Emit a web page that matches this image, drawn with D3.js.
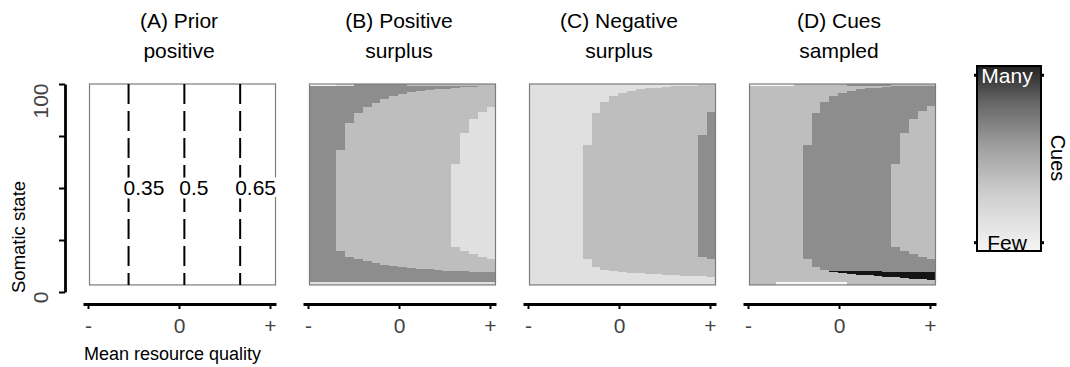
<!DOCTYPE html>
<html>
<head>
<meta charset="utf-8">
<script src="https://cdn.jsdelivr.net/npm/d3@7"></script>
<style>
  body { margin: 0; background: #fff; }
  svg { font-family: "Liberation Sans", Arial, Helvetica, sans-serif; }
</style>
</head>
<body>
<svg id="chart" width="1070" height="367"></svg>
<script>
// columns of the grid: mean resource quality
const quality = [0.25, 0.275, 0.3, 0.325, 0.35, 0.375, 0.4, 0.425, 0.45, 0.475, 0.5,
  0.525, 0.55, 0.575, 0.6, 0.625, 0.65, 0.675, 0.7, 0.725, 0.75]

const titles = [['(A) Prior', 'positive'], ['(B) Positive', 'surplus'], ['(C) Negative', 'surplus'], ['(D) Cues', 'sampled']]
const priorLines = [0.35, 0.5, 0.65]
const xTickValues = [-1, 0, 1]
const xTickLabels = ['-', '0', '+']
const yTickValues = [0, 25, 50, 75, 100]
const yTickLabels = ['0', '', '', '', '100']

// cue levels: 0 few ... 4 many
const cueLevels = [0, 1, 2, 3, 4]
const legendLabels = ['Few', 'Many']

// (B) positive surplus, somatic state boundaries per column
const bMidTop = [null, null, null, 68.3, 81.3, 85.9, 89.1, 91.0, 92.8, 94.2, 95.2, 96.0, 96.5, 97.0, 97.5, 97.7, 98.1, 98.4, 98.7, 99.0, 99.4]
const bMidBottom = [null, null, null, 19.9, 17.0, 15.7, 14.8, 13.8, 13.1, 12.5, 12.0, 11.5, 11.2, 10.9, 10.6, 10.2, 10.1, 10.0, 9.8, 9.6, 9.5]
const bInnerTop = [null, null, null, null, null, null, null, null, null, null, null, null, null, null, null, null, 61.5, 76.3, 83.0, 86.7, 89.1]
const bInnerBottom = [null, null, null, null, null, null, null, null, null, null, null, null, null, null, null, null, 21.8, 19.9, 18.3, 17.0, 16.0]
const bTopRow = [0, 0, 0, 1, 1, 3, 3, 3, 3, 3, 3, 2, 2, 2, 2, 2, 2, 2, 2, 2, 2]
const bBottomRow = [1, 1, 1, 1, 1, 1, 1, 1, 1, 1, 1, 1, 1, 1, 1, 1, 1, 1, 1, 1, 1]

// (C) negative surplus
const cMidTop = [null, null, null, null, null, null, 70.7, 85.9, 91.5, 94.2, 95.8, 96.8, 97.5, 97.9, 98.2, 98.6, 98.9, 99.0, 99.2, 99.4, 99.5]
const cMidBottom = [null, null, null, null, null, null, 15.9, 12.2, 10.6, 10.1, 9.6, 9.3, 9.0, 8.8, 8.5, 8.3, 8.2, 7.9, 7.7, 7.5, 7.4]
const cInnerTop = [null, null, null, null, null, null, null, null, null, null, null, null, null, null, null, null, null, null, null, 75.5, 86.7]
const cInnerBottom = [null, null, null, null, null, null, null, null, null, null, null, null, null, null, null, null, null, null, null, 17.0, 16.0]

// (D) cues sampled
const dMidTop = [null, null, null, null, null, null, 70.7, 85.9, 91.5, 94.2, 95.8, 96.8, 97.5, 97.9, 98.2, 98.6, 98.9, 99.0, 99.2, 99.4, 99.5]
const dMidBottom = [null, null, null, null, null, null, 15.9, 12.2, 10.8, 10.3, 10.2, 10.1, 10.0, 9.9, 9.9, 9.8, 9.7, 9.7, 9.6, 9.6, 9.5]
const dInnerTop = [null, null, null, null, null, null, null, null, null, null, null, null, null, null, null, null, 61.5, 76.3, 83.0, 87.0, 89.4]
const dInnerBottom = [null, null, null, null, null, null, null, null, null, null, null, null, null, null, null, null, 21.8, 19.9, 18.3, 17.0, 16.0]
const dManyBottom = [null, null, null, null, null, null, null, null, null, 9.4, 9.0, 8.6, 8.2, 8.0, 7.7, 7.4, 7.1, 6.8, 6.4, 6.1, 5.8]
const dTopRow = [0, 0, 0, 0, 0, 2, 2, 2, 2, 2, 2, 3, 3, 3, 3, 3, 2, 2, 2, 2, 2]
const dBottomRow = [2, 2, 2, 0, 0, 0, 0, 0, 0, 0, 0, 2, 2, 2, 2, 2, 2, 2, 2, 2, 2]

const stateMin = 3.4
const topRowFrom = 99.1
const bottomRowTo = 4.9

const heatPanels = [
  { index: 1, levels: [3, 2, 1], midTop: bMidTop, midBottom: bMidBottom, innerTop: bInnerTop, innerBottom: bInnerBottom, topRow: bTopRow, bottomRow: bBottomRow },
  { index: 2, levels: [1, 2, 3], midTop: cMidTop, midBottom: cMidBottom, innerTop: cInnerTop, innerBottom: cInnerBottom },
  { index: 3, levels: [2, 3, 2], midTop: dMidTop, midBottom: dMidBottom, innerTop: dInnerTop, innerBottom: dInnerBottom, manyBottom: dManyBottom, topRow: dTopRow, bottomRow: dBottomRow },
]

const boxLeft = 89.5
const boxWidth = 186
const panelStep = 220

const svg = d3.select('#chart')

const y = d3.scaleLinear().domain([0, 100]).range([292, 84])
const xCell = d3.scaleBand().domain(quality).range([0, boxWidth])
const xPrior = d3.scaleLinear().domain([0.245, 0.745]).range([0, boxWidth])
const xAxisScale = d3.scaleLinear().domain([-1.055, 1.066]).range([-6.5, 186.5])
const color = d3.scaleOrdinal().domain(cueLevels).range(['#f8f8f8', '#e0e0e0', '#bebebe', '#8d8d8d', '#141414'])

const buildCells = (p) => {
  const cells = []
  const [outer, mid, inner] = p.levels
  quality.forEach((q, j) => {
    cells.push({ q, from: stateMin, to: 100, level: outer })
    if (p.midTop[j] != null) cells.push({ q, from: p.midBottom[j], to: p.midTop[j], level: mid })
    if (p.innerTop[j] != null) cells.push({ q, from: p.innerBottom[j], to: p.innerTop[j], level: inner })
    if (p.manyBottom && p.manyBottom[j] != null) cells.push({ q, from: p.manyBottom[j], to: p.midBottom[j], level: 4 })
    if (p.topRow) cells.push({ q, from: topRowFrom, to: 100, level: p.topRow[j] })
    if (p.bottomRow) cells.push({ q, from: stateMin, to: bottomRowTo, level: p.bottomRow[j] })
  })
  return cells
}

const panels = svg.selectAll('.panel')
  .data(titles)
  .enter()
  .append('g')
  .attr('class', 'panel')
  .attr('transform', (d, i) => `translate(${boxLeft + i * panelStep},0)`)

// titles
panels.append('text')
  .attr('x', xAxisScale(0))
  .attr('y', 28)
  .attr('text-anchor', 'middle')
  .style('font-size', '21px')
  .text(d => d[0])

panels.append('text')
  .attr('x', xAxisScale(0))
  .attr('y', 58)
  .attr('text-anchor', 'middle')
  .style('font-size', '21px')
  .text(d => d[1])

// heat maps
heatPanels.forEach(p => {
  const g = panels.filter((d, i) => i === p.index)
  g.append('g')
    .selectAll('rect')
    .data(buildCells(p))
    .enter()
    .append('rect')
    .attr('x', d => xCell(d.q))
    .attr('width', xCell.bandwidth() + 0.4)
    .attr('y', d => y(d.to))
    .attr('height', d => y(d.from) - y(d.to))
    .style('fill', d => color(d.level))
    .attr('shape-rendering', 'crispEdges')
})

// frames
panels.append('rect')
  .attr('x', 0)
  .attr('y', y(100))
  .attr('width', boxWidth)
  .attr('height', y(stateMin) - y(100))
  .style('fill', 'none')
  .style('stroke', '#7c7c7c')
  .style('stroke-width', 1.2)

// panel A prior lines
const panelA = panels.filter((d, i) => i === 0)
panelA.selectAll('.prior-line')
  .data(priorLines)
  .enter()
  .append('line')
  .attr('class', 'prior-line')
  .attr('x1', d => xPrior(d))
  .attr('x2', d => xPrior(d))
  .attr('y1', y(100))
  .attr('y2', y(stateMin))
  .style('stroke', '#000')
  .style('stroke-width', 2)
  .style('stroke-dasharray', '20,7')

panelA.selectAll('.prior-label')
  .data(priorLines)
  .enter()
  .append('text')
  .attr('class', 'prior-label')
  .attr('x', d => xPrior(d) - 5)
  .attr('y', y(50) + 7)
  .style('font-size', '21px')
  .style('stroke', '#fff')
  .style('stroke-width', 7)
  .style('paint-order', 'stroke')
  .text(d => String(d))

// x axes
panels.append('g')
  .attr('transform', 'translate(0,304)')
  .call(d3.axisBottom(xAxisScale)
    .tickValues(xTickValues)
    .tickFormat((d, i) => xTickLabels[i])
    .tickSizeInner(5)
    .tickSizeOuter(0)
    .tickPadding(9))
  .call(g => g.select('.domain').style('stroke-width', 2.8))
  .call(g => g.selectAll('.tick line').style('stroke-width', 2))
  .call(g => g.selectAll('.tick text').style('font-size', '21px').style('fill', '#444').style('font-family', null))

// y axis
const yAxis = svg.append('g')
  .attr('transform', 'translate(65,0)')
  .call(d3.axisLeft(y)
    .tickValues(yTickValues)
    .tickFormat((d, i) => yTickLabels[i])
    .tickSizeInner(6)
    .tickSizeOuter(0))
  .call(g => g.select('.domain').style('stroke-width', 2.8))
  .call(g => g.selectAll('.tick line').style('stroke-width', 2))

yAxis.selectAll('.tick text')
  .attr('x', null)
  .attr('dy', null)
  .attr('transform', 'translate(-17,-1) rotate(-90)')
  .attr('text-anchor', 'end')
  .style('font-size', '21px')
  .style('fill', '#444')
  .style('font-family', null)

// axis titles
svg.append('text')
  .attr('x', 84)
  .attr('y', 360)
  .style('font-size', '18px')
  .text('Mean resource quality')

svg.append('text')
  .attr('transform', `translate(25,${y(0) + 1}) rotate(-90)`)
  .attr('text-anchor', 'start')
  .style('font-size', '18.5px')
  .text('Somatic state')

// legend
const legend = svg.append('g').attr('transform', 'translate(977,66)')
const legendY = d3.scaleLinear().domain([0, 1]).range([185, 0])

const grad = svg.append('defs')
  .append('linearGradient')
  .attr('id', 'cue-grad')
  .attr('x1', 0).attr('y1', 1).attr('x2', 0).attr('y2', 0)

grad.selectAll('stop')
  .data([
    { t: 0, c: '#f5f5f5' },
    { t: 0.3, c: '#cfcfcf' },
    { t: 0.55, c: '#a2a2a2' },
    { t: 0.8, c: '#676767' },
    { t: 1, c: '#222' },
  ])
  .enter()
  .append('stop')
  .attr('offset', d => `${d.t * 100}%`)
  .attr('stop-color', d => d.c)

legend.append('rect')
  .attr('width', 64)
  .attr('height', legendY(0))
  .style('fill', 'url(#cue-grad)')
  .style('stroke', '#000')
  .style('stroke-width', 2)

const legendTicks = [0.045, 0.95]
legend.selectAll('.legend-tick')
  .data(legendTicks.flatMap(t => [{ t, x1: -3, x2: 1 }, { t, x1: 63, x2: 67 }]))
  .enter()
  .append('line')
  .attr('x1', d => d.x1)
  .attr('x2', d => d.x2)
  .attr('y1', d => legendY(d.t))
  .attr('y2', d => legendY(d.t))
  .style('stroke', '#000')
  .style('stroke-width', 3)

legend.selectAll('.legend-label')
  .data(legendLabels)
  .enter()
  .append('text')
  .attr('x', 30)
  .attr('y', (d, i) => i === 0 ? 184 : 17)
  .attr('text-anchor', 'middle')
  .style('font-size', '21px')
  .style('fill', (d, i) => i === 0 ? '#000' : '#fff')
  .text(d => d)

svg.append('text')
  .attr('transform', 'translate(1051,158) rotate(90)')
  .attr('text-anchor', 'middle')
  .style('font-size', '20px')
  .text('Cues')
</script>
</body>
</html>
